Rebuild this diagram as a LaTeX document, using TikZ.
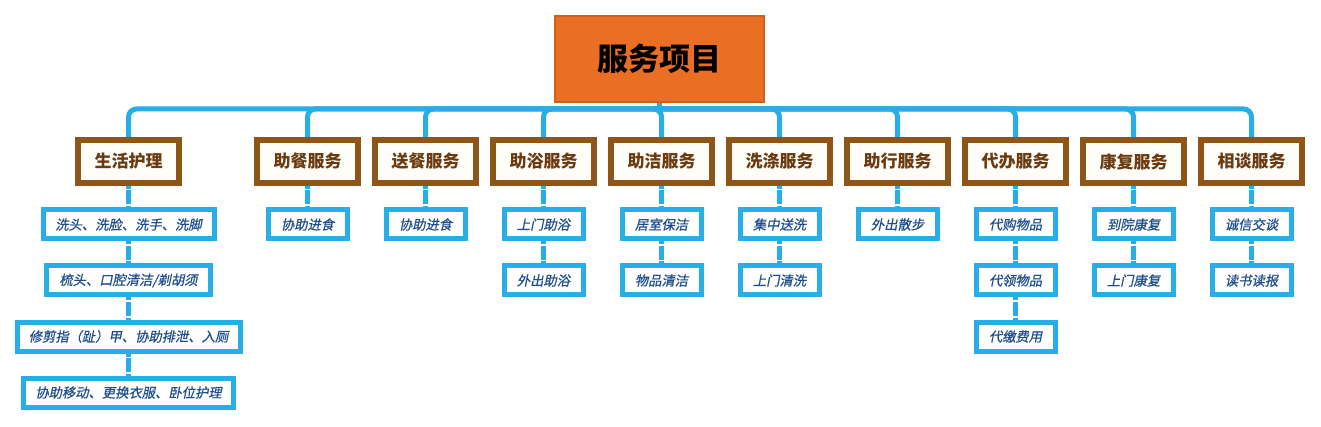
\documentclass[tikz,border=0pt]{standalone}
\usepackage{fontspec}
\setmainfont{Noto Sans CJK SC}
\newfontfamily\slfont[FakeSlant=0.2, FakeBold=0.6]{Noto Sans CJK SC}
\usepackage{tikz}
\usetikzlibrary{positioning}
\definecolor{rootorange}{HTML}{EA6F25}
\definecolor{rootedge}{HTML}{D2601C}
\definecolor{catbrown}{HTML}{8E5519}
\definecolor{catfill}{HTML}{FFFDF7}
\definecolor{cattext}{HTML}{6B3A10}
\definecolor{itemblue}{HTML}{27AEE6}
\definecolor{itemtext}{HTML}{1F4E8C}

\begin{document}
\begin{tikzpicture}[x=1pt, y=-1pt,
every node/.style = {draw, align=center, inner sep=0pt},
  root/.style = {fill=rootorange, draw=rootedge, line width=2pt, minimum width=209pt, minimum height=86pt, font=\bfseries\fontsize{31}{31}\selectfont},
  cat/.style = {fill=catfill, draw=catbrown, line width=6pt, minimum width=101pt, minimum height=43pt, text=cattext, font=\bfseries\fontsize{17}{17}\selectfont},
  item/.style = {fill=white, draw=itemblue, line width=5pt, minimum width=79pt, minimum height=29pt, text=itemtext, font=\slfont\fontsize{13.3}{13.3}\selectfont},
  bus/.style = {draw=itemblue, line width=5pt, rounded corners=8pt},
  link/.style = {draw=itemblue, line width=4.5pt, dash pattern=on 3pt off 1.5pt on 14pt off 1.5pt}
]
\useasboundingbox (0,0) rectangle (1321,427);
\node[root] (root) at (659.5,59) {服务项目};
\draw[bus] (root.south) -- (659.5,109);
\foreach \x/\nm/\txt in {128.5/huli/生活护理, 307.5/zhucan/助餐服务, 425.5/songcan/送餐服务,
    543.5/zhuyu/助浴服务, 661.5/zhujie/助洁服务, 779.5/xidi/洗涤服务, 897.5/zhuxing/助行服务,
    1015.5/daiban/代办服务, 1133.5/kangfu/康复服务, 1251.5/xiangtan/相谈服务}
{
  \node[cat] (\nm) at (\x,161.5) {\txt};
  \draw[bus] (659.5,109) -| (\nm.north);
}

% first row
\node[item, minimum width=171pt] (huli1) at (128.5,224.5) {洗头、洗脸、洗手、洗脚};
\node[item] (zhucan1) at (307.5,224.5) {协助进食};
\node[item] (songcan1) at (425.5,224.5) {协助进食};
\node[item] (zhuyu1) at (543.5,224.5) {上门助浴};
\node[item] (zhujie1) at (661.5,224.5) {居室保洁};
\node[item] (xidi1) at (779.5,224.5) {集中送洗};
\node[item] (zhuxing1) at (897.5,224.5) {外出散步};
\node[item] (daiban1) at (1015.5,224.5) {代购物品};
\node[item] (kangfu1) at (1133.5,224.5) {到院康复};
\node[item] (xiangtan1) at (1251.5,224.5) {诚信交谈};
% lower rows
\node[item, minimum width=164pt] (huli2) at (128.5,280.5) {梳头、口腔清洁/剃胡须};
\node[item, minimum width=223pt] (huli3) at (128.5,336.5) {修剪指（趾）甲、协助排泄、入厕};
\node[item, minimum width=210pt] (huli4) at (128.5,392.5) {协助移动、更换衣服、卧位护理};
\node[item] (zhuyu2) at (543.5,280.5) {外出助浴};
\node[item] (zhujie2) at (661.5,280.5) {物品清洁};
\node[item] (xidi2) at (779.5,280.5) {上门清洗};
\node[item] (daiban2) at (1015.5,280.5) {代领物品};
\node[item] (daiban3) at (1015.5,336.5) {代缴费用};
\node[item] (kangfu2) at (1133.5,280.5) {上门康复};
\node[item] (xiangtan2) at (1251.5,280.5) {读书读报};

\foreach \a/\b in {huli/huli1, huli1/huli2, huli2/huli3, huli3/huli4, zhucan/zhucan1,
    songcan/songcan1, zhuyu/zhuyu1, zhuyu1/zhuyu2, zhujie/zhujie1, zhujie1/zhujie2,
    xidi/xidi1, xidi1/xidi2, zhuxing/zhuxing1, daiban/daiban1, daiban1/daiban2,
    daiban2/daiban3, kangfu/kangfu1, kangfu1/kangfu2, xiangtan/xiangtan1, xiangtan1/xiangtan2}
  \draw[link] (\a.south) -- (\b.north);
\end{tikzpicture}
\end{document}
